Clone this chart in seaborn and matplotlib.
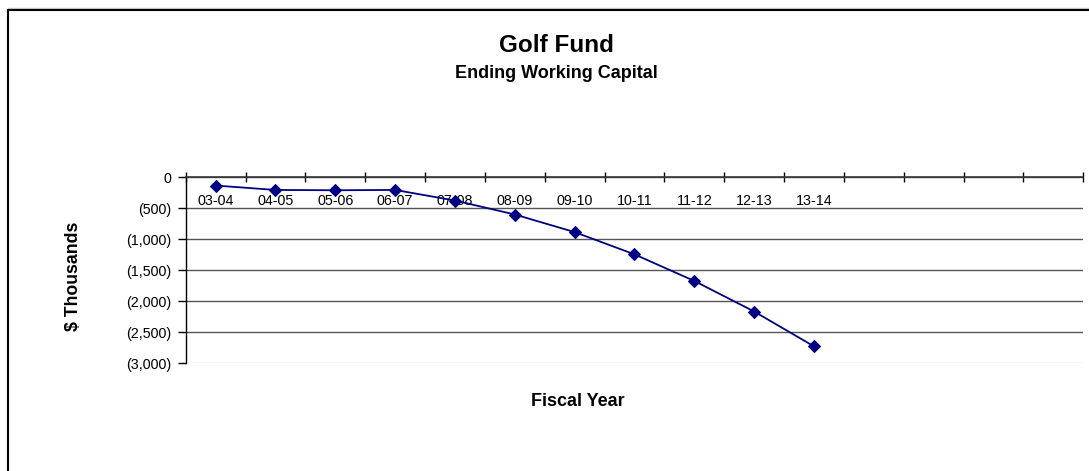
import matplotlib
matplotlib.use("Agg")
import matplotlib.pyplot as plt
import matplotlib.ticker as mticker
from matplotlib.lines import Line2D
import seaborn as sns
import pandas as pd

# ---- data ----
categories = ["03-04", "04-05", "05-06", "06-07", "07-08", "08-09",
              "09-10", "10-11", "11-12", "12-13", "13-14"]
values = [-133, -204, -209, -204, -375, -600, -884, -1243, -1672, -2165, -2727]
n_slots = 15
y_ticks = [0, -500, -1000, -1500, -2000, -2500, -3000]

sns.set_theme(style="white")
plt.rcParams['font.family'] = ['Liberation Sans', 'DejaVu Sans']
plt.rcParams['text.color'] = 'black'

fig = plt.figure(figsize=(10.89, 4.71), dpi=100)
ax = fig.add_axes([185.7 / 1089, 1 - 363.3 / 471, (1083.3 - 185.7) / 1089, (363.3 - 177.3) / 471])

df = pd.DataFrame({"pos": list(range(len(categories))), "val": values})
sns.lineplot(data=df, x="pos", y="val", ax=ax, color="#000080", linewidth=1.3,
             marker="D", markersize=6, markeredgecolor="#000080", markerfacecolor="#000080")

ax.set_xlim(-0.5, n_slots - 0.5)
ax.set_ylim(y_ticks[-1], y_ticks[0])

# y axis
ax.set_yticks(y_ticks)
ax.yaxis.set_major_formatter(mticker.FuncFormatter(
    lambda v, p: "0" if v == 0 else f"({abs(v):,.0f})"))
ax.tick_params(axis="y", direction="out", length=6, width=1, color="black",
               labelsize=10.3, pad=4, left=True, labelcolor="black")

# x axis crossing at zero
ax.spines["bottom"].set_position(("data", 0))
ax.spines["bottom"].set_color("#333333")
ax.spines["bottom"].set_linewidth(1.2)
ax.spines["left"].set_color("black")
ax.spines["left"].set_linewidth(1.0)
ax.spines["top"].set_visible(False)
ax.spines["right"].set_visible(False)

ax.set_xticks(range(len(categories)))
ax.set_xticklabels(categories)
ax.set_xticks([i - 0.5 for i in range(n_slots + 1)], minor=True)
ax.tick_params(axis="x", which="major", length=0, labelsize=10.3, pad=12, labelcolor="black")
ax.tick_params(axis="x", which="minor", direction="inout", length=7, width=1,
               color="black", bottom=True)

# gridlines
ax.yaxis.grid(True, color="#555555", linewidth=1.0)
ax.xaxis.grid(False)
for v, gl in zip(y_ticks, ax.get_ygridlines()):
    if v == y_ticks[-1]:
        gl.set_color("#d9d9d9")

ax.set_xlabel("")
ax.set_ylabel("")

fig.text(556 / 1089, 1 - 46 / 471, "Golf Fund", ha="center", va="center",
         fontsize=17.5, fontweight="bold", color="black")
fig.text(556 / 1089, 1 - 73.5 / 471, "Ending Working Capital", ha="center", va="center",
         fontsize=13, fontweight="bold", color="black")
fig.text(578 / 1089, 1 - 402 / 471, "Fiscal Year", ha="center", va="center",
         fontsize=13, fontweight="bold", color="black")
fig.text(74 / 1089, 1 - 276 / 471, "$ Thousands", ha="center", va="center",
         rotation=90, fontsize=12.7, fontweight="bold", color="black")

# outer chart border (top and left visible)
fig.add_artist(Line2D([8 / 1089, 1], [1 - 8 / 471, 1 - 8 / 471], transform=fig.transFigure,
                      color="#cccccc", linewidth=1))
fig.add_artist(Line2D([8 / 1089, 1], [1 - 9.5 / 471, 1 - 9.5 / 471], transform=fig.transFigure,
                      color="black", linewidth=1.5))
fig.add_artist(Line2D([8 / 1089, 8 / 1089], [0, 1 - 9.5 / 471], transform=fig.transFigure,
                      color="black", linewidth=1.5))

fig.savefig("out.png", dpi=100)
